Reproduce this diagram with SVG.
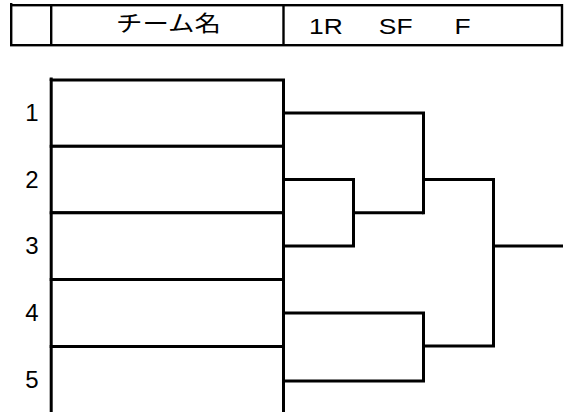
<svg xmlns="http://www.w3.org/2000/svg" width="565" height="412" viewBox="0 0 565 412">
<style>
  .hdr { fill: none; stroke: #000; stroke-width: 2.4; }
  .slot { fill: #fff; stroke: #000; stroke-width: 3; }
  .wire { fill: none; stroke: #000; stroke-width: 3; stroke-linejoin: miter; stroke-linecap: butt; }
  .ht { font-family: "Liberation Sans", Arial, sans-serif; font-size: 22px; fill: #000; }
  .hj { font-family: "Liberation Sans", "Noto Sans CJK JP", sans-serif; font-size: 22px; fill: #000; }
  .num { font-family: "Liberation Sans", Arial, sans-serif; font-size: 24px; fill: #000; text-anchor: middle; }
</style>
<rect width="565" height="412" fill="#fff"/>
<g id="header">
  <rect class="hdr" x="11.2" y="5.2" width="550.8" height="40"/>
  <line class="hdr" x1="11.2" y1="3" x2="11.2" y2="6"/>
  <line class="hdr" x1="51.2" y1="5.2" x2="51.2" y2="45.2"/>
  <line class="hdr" x1="283.5" y1="5.2" x2="283.5" y2="45.2"/>
  <text class="hj" transform="scale(1.2,1)" x="96.7" y="31.5">チーム名</text>
  <text class="ht" transform="scale(1.2,1)" y="34.5"><tspan x="257.5">1R</tspan><tspan x="315.7">SF</tspan><tspan x="378.7">F</tspan></text>
</g>
<g id="team1">
  <rect class="slot" x="51.2" y="80" width="232.3" height="66.3"/>
  <text class="num" x="32" y="121">1</text>
</g>
<g id="team2">
  <rect class="slot" x="51.2" y="146.3" width="232.3" height="66.5"/>
  <text class="num" x="32" y="187.5">2</text>
</g>
<g id="team3">
  <rect class="slot" x="51.2" y="212.8" width="232.3" height="66.7"/>
  <text class="num" x="32" y="254">3</text>
</g>
<g id="team4">
  <rect class="slot" x="51.2" y="279.5" width="232.3" height="67"/>
  <text class="num" x="32" y="321">4</text>
</g>
<g id="team5">
  <rect class="slot" x="51.2" y="346.5" width="232.3" height="70"/>
  <text class="num" x="32" y="388">5</text>
</g>
<g id="connectors">
  <line class="wire" x1="51.2" y1="77.5" x2="51.2" y2="81"/>
  <path class="wire" d="M283.5 113 H423.5 V214.3"/>
  <path class="wire" d="M283.5 179.5 H353.5 V246 H283.5"/>
  <path class="wire" d="M353.5 212.8 H423.5"/>
  <path class="wire" d="M423.5 179.5 H493.5 V346 H423.5"/>
  <path class="wire" d="M283.5 313 H423.5 V381 H283.5"/>
  <path class="wire" d="M493.5 246 H563"/>
</g>
</svg>
